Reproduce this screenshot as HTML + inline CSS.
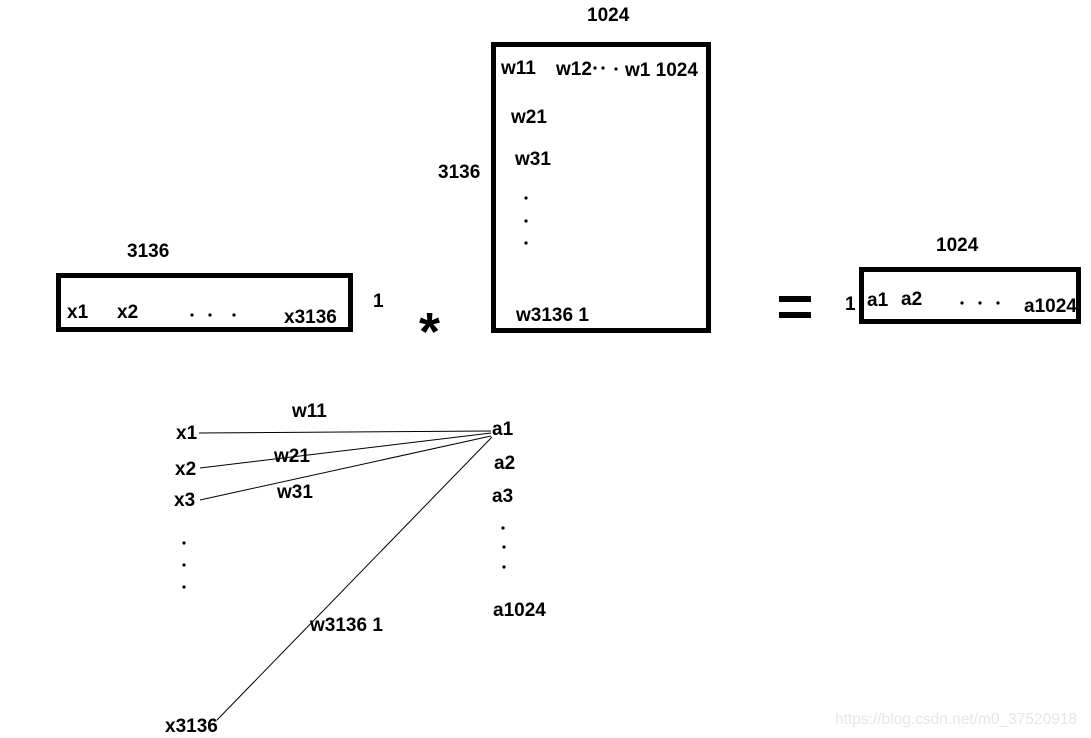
<!DOCTYPE html>
<html><head><meta charset="utf-8"><style>
html,body{margin:0;padding:0;background:#fff;}
svg{display:block;}
text{font-family:"Liberation Sans",sans-serif;font-weight:bold;font-size:19px;fill:#000;}
</style></head><body>
<svg width="1091" height="738" viewBox="0 0 1091 738" xmlns="http://www.w3.org/2000/svg">
<rect x="58.5" y="275.5" width="292" height="54" fill="none" stroke="#000" stroke-width="5"/>
<rect x="493.5" y="44.5" width="215" height="286" fill="none" stroke="#000" stroke-width="5"/>
<rect x="861.5" y="269.5" width="217" height="52" fill="none" stroke="#000" stroke-width="5"/>
<rect x="779" y="296" width="32" height="6"/>
<rect x="779" y="312" width="32" height="6"/>
<text x="587" y="21">1024</text>
<text x="501" y="74">w11</text>
<text x="556" y="75">w12</text>
<circle cx="595" cy="68" r="1.6"/><circle cx="603" cy="68" r="1.6"/><circle cx="616" cy="69" r="1.6"/>
<text x="625" y="76">w1 1024</text>
<text x="511" y="123">w21</text>
<text x="515" y="165">w31</text>
<circle cx="526" cy="198" r="1.6"/><circle cx="526" cy="221" r="1.6"/><circle cx="526" cy="243" r="1.6"/>
<text x="516" y="321">w3136 1</text>
<text x="438" y="178">3136</text>
<text x="127" y="257">3136</text>
<text x="67" y="318">x1</text>
<text x="117" y="318">x2</text>
<circle cx="192" cy="315" r="1.6"/><circle cx="210" cy="315" r="1.6"/><circle cx="234" cy="315" r="1.6"/>
<text x="284" y="323">x3136</text>
<text x="373" y="307">1</text>
<text x="419" y="350" style="font-size:54px">*</text>
<text x="936" y="251">1024</text>
<text x="845" y="310">1</text>
<text x="867" y="306">a1</text>
<text x="901" y="305">a2</text>
<circle cx="962" cy="303" r="1.6"/><circle cx="980" cy="303" r="1.6"/><circle cx="998" cy="303" r="1.6"/>
<text x="1024" y="312">a1024</text>
<g stroke="#000" stroke-width="1" fill="none">
<line x1="199" y1="433" x2="491" y2="431"/>
<line x1="200" y1="468" x2="491" y2="433"/>
<line x1="200" y1="500" x2="491" y2="436"/>
<line x1="217" y1="720" x2="492" y2="437"/>
</g>
<text x="292" y="417">w11</text>
<text x="176" y="439">x1</text>
<text x="492" y="435">a1</text>
<text x="175" y="475">x2</text>
<text x="274" y="462">w21</text>
<text x="494" y="469">a2</text>
<text x="174" y="506">x3</text>
<text x="277" y="498">w31</text>
<text x="492" y="502">a3</text>
<circle cx="184" cy="543" r="1.6"/><circle cx="184" cy="565" r="1.6"/><circle cx="184" cy="587" r="1.6"/>
<circle cx="503" cy="528" r="1.6"/><circle cx="504" cy="547" r="1.6"/><circle cx="504" cy="567" r="1.6"/>
<text x="310" y="631">w3136 1</text>
<text x="493" y="616">a1024</text>
<text x="165" y="732">x3136</text>
<text x="835" y="724" style="font-weight:normal;font-size:15.5px;fill:#e6e6e6">https://blog.csdn.net/m0_37520918</text>
</svg>
</body></html>
